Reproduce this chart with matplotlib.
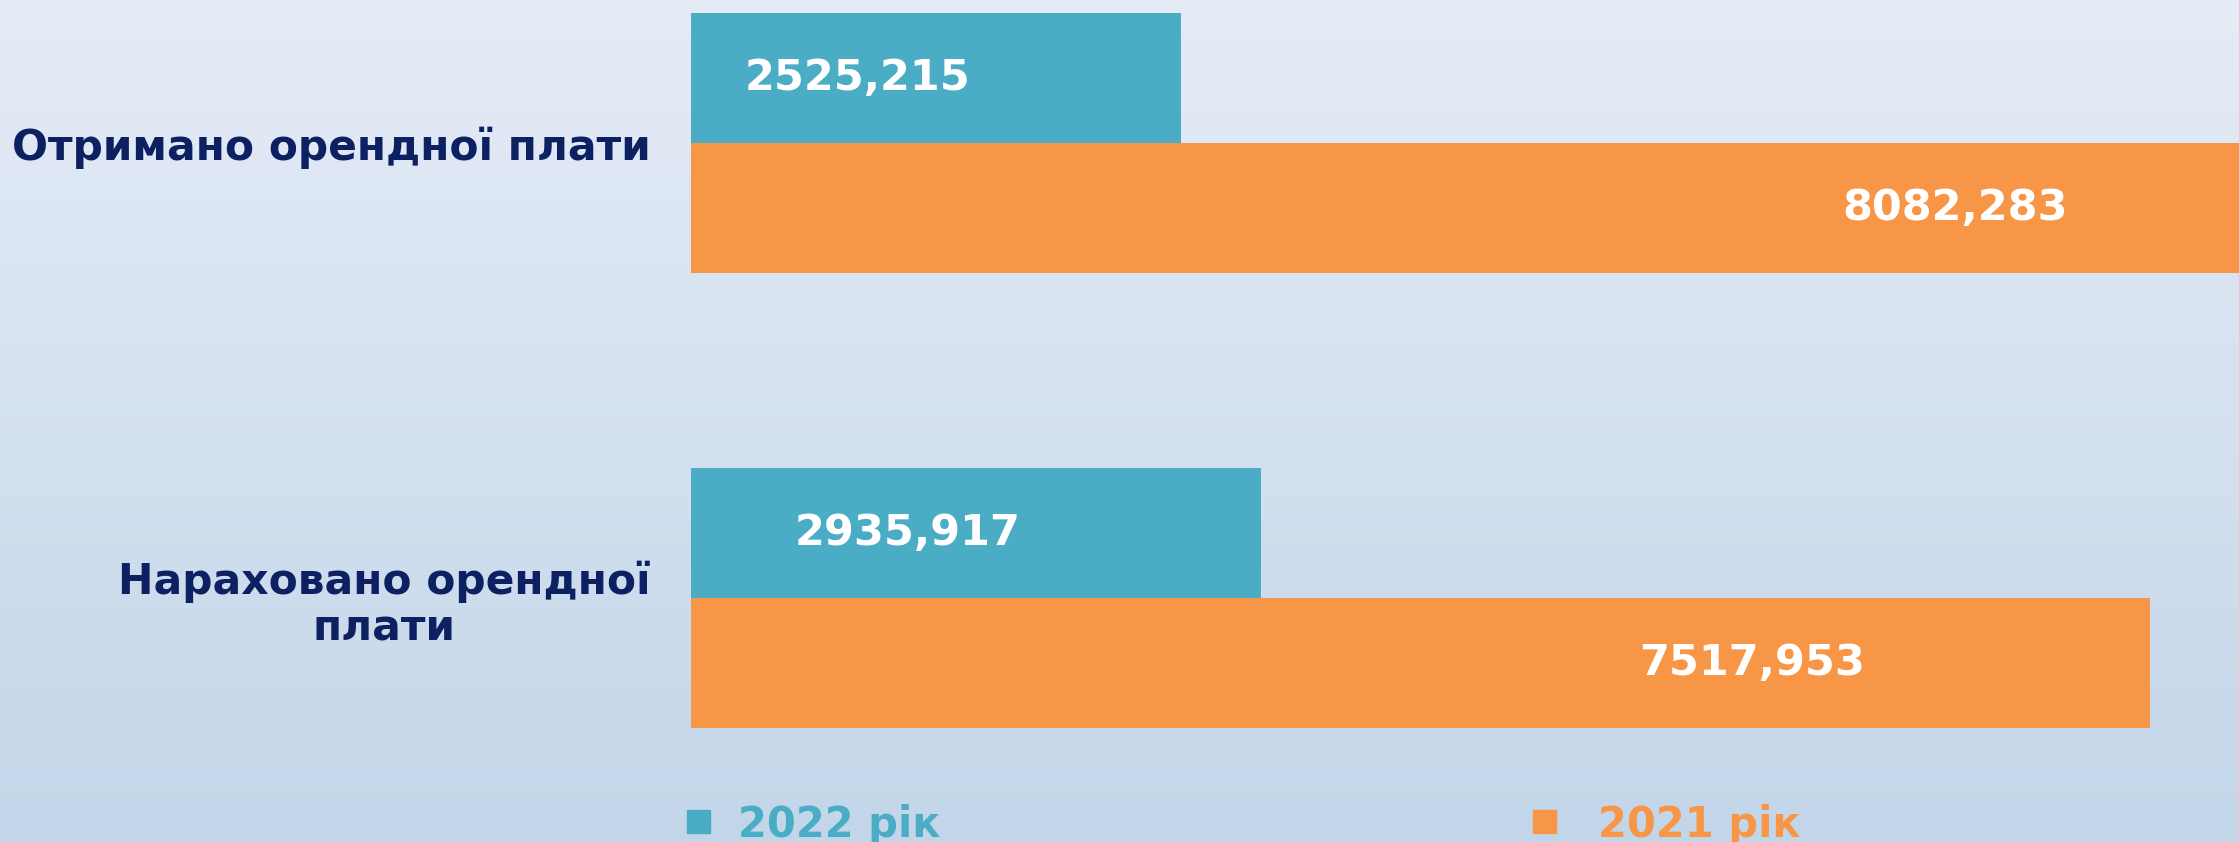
import numpy as np
import matplotlib.pyplot as plt
from matplotlib.patches import Rectangle

# data
categories = ['Отримано орендної плати', 'Нараховано орендної\nплати']
years = ['2022 рік', '2021 рік']
values_2022 = [2525.215, 2935.917]
values_2021 = [8082.283, 7517.953]

teal = '#4BACC6'
orange = '#F79646'
navy = '#0C2062'

fig = plt.figure(figsize=(22.39, 8.42), dpi=100)

# background gradient
bg = fig.add_axes([0, 0, 1, 1], zorder=-1)
grad = np.linspace(0, 1, 256).reshape(-1, 1)
top = np.array([0.898, 0.925, 0.965])
bot = np.array([0.765, 0.839, 0.914])
img = top + grad[..., None] * (bot - top)
bg.imshow(img, aspect='auto', extent=[0, 1, 0, 1], origin='upper')
bg.axis('off')

left = 691 / 2239
ax = fig.add_axes([left, 0, 1 - left, 1])
ax.patch.set_alpha(0)

y = np.arange(len(categories))
h = 0.2857
ax.barh(y - h / 2, values_2022, height=h, color=teal)
ax.barh(y + h / 2, values_2021, height=h, color=orange)

ax.set_xlim(0, 7977)
ax.set_ylim(1.536, -0.314)

for s in ax.spines.values():
    s.set_visible(False)
ax.set_xticks([])
ax.set_yticks(y)
ax.set_yticklabels(categories, fontsize=30.5, fontweight='bold', color=navy,
                   linespacing=1.15)
ax.tick_params(axis='y', length=0, pad=29)
for t in ax.get_yticklabels():
    t.set_multialignment('center')

def fmt(v):
    return f'{v:.3f}'.replace('.', ',')

# value label placement (fraction of bar length)
frac_2022 = [0.34, 0.38]
frac_2021 = [0.806, 0.727]
for i in range(len(categories)):
    ax.text(values_2022[i] * frac_2022[i], y[i] - h / 2, fmt(values_2022[i]),
            ha='center', va='center', color='white', fontsize=31, fontweight='bold')
    ax.text(values_2021[i] * frac_2021[i], y[i] + h / 2, fmt(values_2021[i]),
            ha='center', va='center', color='white', fontsize=31, fontweight='bold')

# legend
W, H = 2239, 842
for x0, tx, col, lab in [(687, 738, teal, years[0]), (1533, 1598, orange, years[1])]:
    fig.add_artist(Rectangle((x0 / W, (H - 833) / H), 23 / W, 23 / H,
                             transform=fig.transFigure, color=col))
    fig.text(tx / W, (H - 820) / H, lab, color=col, fontsize=30,
             fontweight='bold', ha='left', va='center_baseline')

fig.savefig('out.png', dpi=100)
